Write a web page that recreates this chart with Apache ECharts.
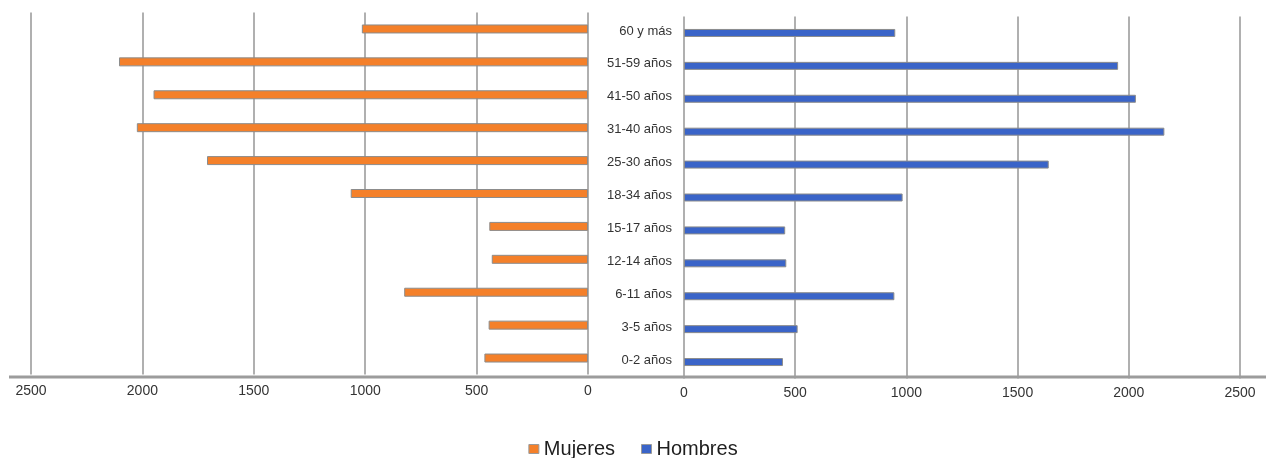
<!DOCTYPE html>
<html>
<head>
<meta charset="utf-8">
<script src="https://cdn.jsdelivr.net/npm/echarts@6/dist/echarts.min.js"></script>
<style>
  html, body { margin: 0; padding: 0; background: #ffffff; }
  #chart { width: 1266px; height: 458px; }
</style>
</head>
<body>
<div id="chart"></div>
<script>
// Age groups, listed top to bottom
const categories = ['60 y más', '51-59 años', '41-50 años', '31-40 años', '25-30 años', '18-34 años',
                    '15-17 años', '12-14 años', '6-11 años', '3-5 años', '0-2 años'];
const mujeres = [1015, 2105, 1950, 2025, 1710, 1065, 443, 432, 825, 446, 465];
const hombres = [950, 1952, 2032, 2160, 1640, 983, 455, 460, 946, 511, 445];
const valueTicks = { min: 0, max: 2500, interval: 500 };

const font = 'Liberation Sans, Arial, sans-serif';
const gridLine = { show: true, lineStyle: { color: '#b0b0b0', width: 2 } };
const plainNumber = v => String(v);

const chart = echarts.init(document.getElementById('chart'), null, { renderer: 'canvas' });

chart.setOption({
  animation: false,
  backgroundColor: '#ffffff',
  textStyle: { fontFamily: font },
  legend: {
    data: ['Mujeres', 'Hombres'],
    left: 'center',
    top: 434,
    icon: 'rect',
    itemWidth: 10,
    itemHeight: 9,
    itemGap: 26,
    itemStyle: { borderWidth: 1, borderColor: '#9a9a9a' },
    textStyle: { fontSize: 20, color: '#1e1e1e', fontFamily: font }
  },
  grid: [
    { left: 31, width: 557, top: 12.5, height: 362 },
    { left: 684, width: 556, top: 16.5, height: 362 }
  ],
  xAxis: [
    {
      gridIndex: 0, type: 'value', inverse: true,
      min: valueTicks.min, max: valueTicks.max, interval: valueTicks.interval,
      axisLine: { show: false }, axisTick: { show: false },
      axisLabel: { fontSize: 14, color: '#333333', margin: 10, fontFamily: font, formatter: plainNumber },
      splitLine: gridLine
    },
    {
      gridIndex: 1, type: 'value',
      min: valueTicks.min, max: valueTicks.max, interval: valueTicks.interval,
      axisLine: { show: false }, axisTick: { show: false },
      axisLabel: { fontSize: 14, color: '#333333', margin: 8, fontFamily: font, formatter: plainNumber },
      splitLine: gridLine
    }
  ],
  yAxis: [
    {
      gridIndex: 0, type: 'category', data: categories, inverse: true,
      axisLine: { show: false }, axisTick: { show: false }, axisLabel: { show: false }
    },
    {
      gridIndex: 1, type: 'category', data: categories, inverse: true, position: 'left',
      axisLine: { show: false }, axisTick: { show: false },
      axisLabel: {
        fontSize: 13, color: '#333333', margin: 12, fontFamily: font,
        verticalAlign: 'bottom', lineHeight: 4
      }
    }
  ],
  series: [
    {
      name: 'Mujeres', type: 'bar', xAxisIndex: 0, yAxisIndex: 0,
      data: mujeres, barWidth: 9,
      itemStyle: { color: '#f4802a', borderColor: '#8c8c8c', borderWidth: 1 }
    },
    {
      name: 'Hombres', type: 'bar', xAxisIndex: 1, yAxisIndex: 1,
      data: hombres, barWidth: 8,
      itemStyle: { color: '#3a64c8', borderColor: '#8c8c8c', borderWidth: 1 }
    }
  ],
  graphic: [
    {
      type: 'line', z: 5,
      shape: { x1: 9, y1: 377, x2: 1266, y2: 377 },
      style: { stroke: '#9c9c9c', lineWidth: 3 }
    }
  ]
});
</script>
</body>
</html>
